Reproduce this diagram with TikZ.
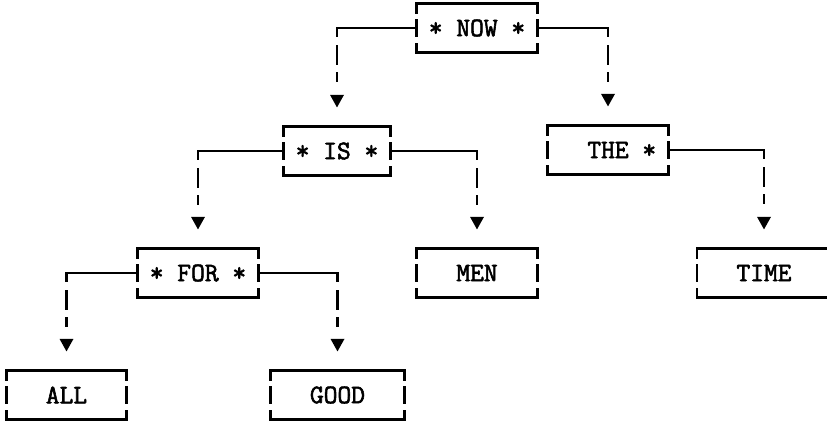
\documentclass[tikz,border=0pt]{standalone}
\usepackage{fontspec}
\newfontfamily\typer[AutoFakeBold=2.2]{Latin Modern Mono}
\usetikzlibrary{arrows.meta}

\begin{document}
\begin{tikzpicture}[x=0.025cm, y=0.025cm,
    word/.style={font=\fontsize{19}{22}\selectfont\typer\bfseries,
                 inner xsep=0.3cm, inner ysep=0pt, minimum height=1.225cm, outer sep=0pt},
    frame/.style={line width=2pt, line cap=rect},
    link/.style={line width=1.5pt, line cap=rect},
    drop/.style={line width=1.6pt,
                 dash pattern=on 6.4pt off 5.7pt on 14.2pt off 5pt on 7.1pt off 9.2pt,
                 -{Triangle[length=9pt,width=9.5pt]}, shorten >=13.5pt}]
\useasboundingbox (0,0) rectangle (827,-421);
\clip (0,0) rectangle (827,-421);

\begin{scope}[every node/.style={word}]
    \node (now)  at (477,-28)   {* NOW *};
    \node (is)   at (337,-151)  {* IS *};
    \node (the)  at (608,-150)  {\ \ THE *};
    \node (for)  at (198,-273)  {* FOR *};
    \node (men)  at (477,-273)  {\ \ MEN\ \ \null};
    \node (time) at (764,-273)  {\ \ TIME\ \ \null};
    \node (all)  at (66.5,-395) {\ \ ALL\ \ \null};
    \node (good) at (337.5,-395) {\ \ GOOD\ \ \null};
\end{scope}

% typewriter boxes: solid top and bottom, broken sides
\foreach \n in {now,is,the,for,men,time,all,good} {
    \draw[frame] (\n.north west) ++(0,-9) -- (\n.north west) -- (\n.north east) -- ++(0,-9);
    \draw[frame] (\n.south west) ++(0,8) -- (\n.south west) -- (\n.south east) -- ++(0,8);
    \draw[frame] (\n.west) ++(0,7.5) -- ++(0,-15);
    \draw[frame] (\n.east) ++(0,7.5) -- ++(0,-15);
}

% left and right links
\draw[link] (now.west) -- (now.west -| is.north) coordinate (nowl);
\draw[drop] (nowl) -- (is.north);
\draw[link] (now.east) -- (now.east -| the.north) coordinate (nowr);
\draw[drop] (nowr) -- (the.north);
\draw[link] (is.west) -- (is.west -| for.north) coordinate (isl);
\draw[drop] (isl) -- (for.north);
\draw[link] (is.east) -- (is.east -| men.north) coordinate (isr);
\draw[drop] (isr) -- (men.north);
\draw[link] (the.east) -- (the.east -| time.north) coordinate (ther);
\draw[drop] (ther) -- (time.north);
\draw[link] (for.west) -- (for.west -| all.north) coordinate (forl);
\draw[drop] (forl) -- (all.north);
\draw[link] (for.east) -- (for.east -| good.north) coordinate (forr);
\draw[drop] (forr) -- (good.north);
\end{tikzpicture}
\end{document}
